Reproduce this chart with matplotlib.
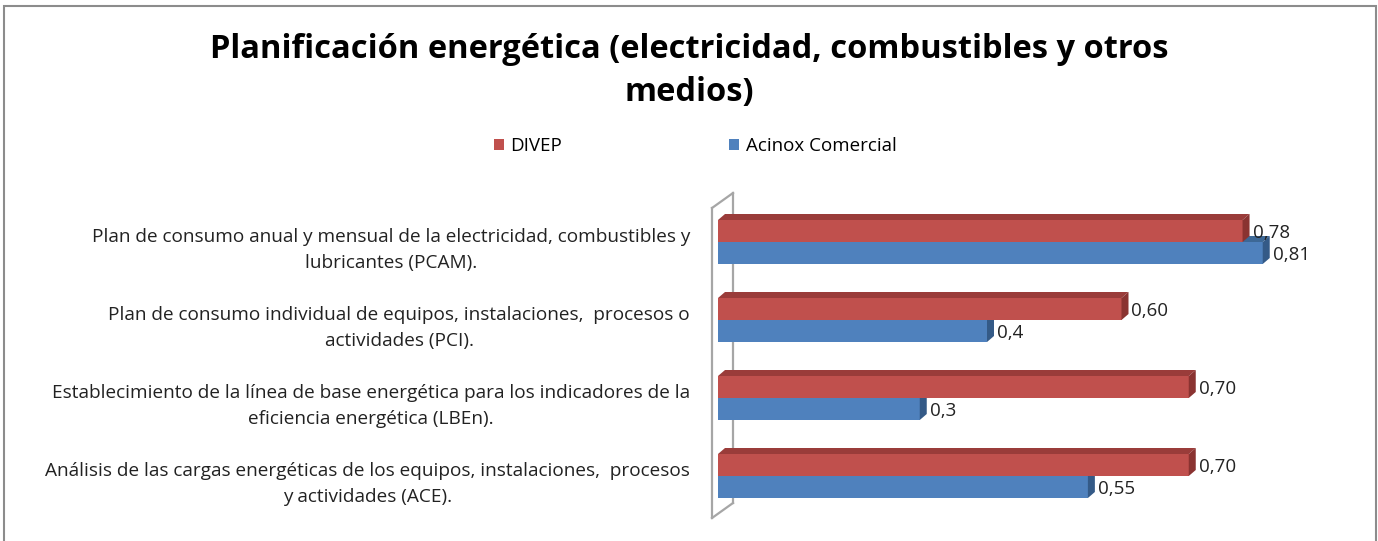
import matplotlib
matplotlib.use("Agg")
import matplotlib.pyplot as plt
from matplotlib.patches import Polygon, Rectangle, Patch
import numpy as np

plt.rcParams['font.family'] = ['Open Sans', 'DejaVu Sans']

TITLE = "Planificación energética (electricidad, combustibles y otros\nmedios)"
categories = [
    "Plan de consumo anual y mensual de la electricidad, combustibles y\nlubricantes (PCAM).",
    "Plan de consumo individual de equipos, instalaciones,  procesos o\nactividades (PCI).",
    "Establecimiento de la línea de base energética para los indicadores de la\neficiencia energética (LBEn).",
    "Análisis de las cargas energéticas de los equipos, instalaciones,  procesos\ny actividades (ACE).",
]
series_names = ["DIVEP", "Acinox Comercial"]
divep = [0.78, 0.60, 0.70, 0.70]
acinox = [0.81, 0.4, 0.3, 0.55]
divep_labels = ["0,78", "0,60", "0,70", "0,70"]
acinox_labels = ["0,81", "0,4", "0,3", "0,55"]

RED, RED_TOP, RED_SIDE = "#C0504D", "#9A3C3A", "#8A3331"
BLUE, BLUE_TOP, BLUE_SIDE = "#4F81BD", "#3D6896", "#345A87"

W, H = 1378, 541
fig = plt.figure(figsize=(W / 100, H / 100), dpi=100)

# chart area border (bottom edge cropped in the original)
fig.add_artist(Rectangle((4 / W, -0.05), (1376 - 4) / W, 1.05 - 6 / H,
                         transform=fig.transFigure, fill=False,
                         edgecolor="#8C8C8C", lw=1.5))

fig.text(0.5, 1 - 71 / H, TITLE, ha="center", va="center", fontsize=23.5,
         fontweight="bold", linespacing=1.38)

ax_l, ax_r, ax_t, ax_b = 718, 1340, 193, 518
ax = fig.add_axes([ax_l / W, 1 - ax_b / H, (ax_r - ax_l) / W, (ax_b - ax_t) / H])
px_x = 672.5          # pixels per unit on x
px_y = 78.0           # pixels per category
ax.set_xlim(0, (ax_r - ax_l) / px_x)
ax.set_ylim((ax_b - 242) / px_y, -(242 - ax_t) / px_y)
ax.axis("off")

pos = np.arange(len(categories))
h = 22 / px_y
dx, dy = 7 / px_x, 6 / px_y

# back wall
wdx, wdy = 21 / px_x, 15 / px_y
y0, y1 = ax.get_ylim()[1], ax.get_ylim()[0]
fx = -6 / px_x
wall = dict(color="#A6A6A6", lw=1.6, clip_on=False)
ax.plot([fx, fx], [y0 + wdy, y1], zorder=5, **wall)
ax.plot([fx + wdx, fx + wdx], [y0, y1 - wdy], zorder=0, **wall)
ax.plot([fx, fx + wdx], [y0 + wdy, y0], zorder=5, **wall)
ax.plot([fx, fx + wdx], [y1, y1 - wdy], zorder=5, **wall)

def bars3d(vals, ytops, face, top, side, z):
    ax.barh(ytops + h / 2, vals, height=h, color=face, zorder=z, linewidth=0)
    for v, yt in zip(vals, ytops):
        ax.add_patch(Polygon([(0, yt), (v, yt), (v + dx, yt - dy), (dx, yt - dy)],
                             closed=True, facecolor=top, edgecolor="none", zorder=z))
        ax.add_patch(Polygon([(v, yt + h), (v, yt), (v + dx, yt - dy), (v + dx, yt + h - dy)],
                             closed=True, facecolor=side, edgecolor="none", zorder=z))

bars3d(acinox, pos, BLUE, BLUE_TOP, BLUE_SIDE, 2)
bars3d(divep, pos - h, RED, RED_TOP, RED_SIDE, 3)

off = 10 / px_x
for i in pos:
    ax.text(divep[i] + off, i - h / 2 + 2 / px_y, divep_labels[i], ha="left",
            va="center", fontsize=13.5, color="#222222", zorder=6)
    ax.text(acinox[i] + off, i + h / 2 + 2 / px_y, acinox_labels[i], ha="left",
            va="center", fontsize=13.5, color="#222222", zorder=6)

# category labels
for i, lab in enumerate(categories):
    ax.text(-28 / px_x, i + 8 / px_y, lab, ha="right", va="center",
            multialignment="center", fontsize=13.7, color="#222222",
            linespacing=1.55, clip_on=False)

handles = [Patch(facecolor=RED), Patch(facecolor=BLUE)]
fig.legend(handles, series_names, loc="center", bbox_to_anchor=(0.5044, 1 - 146 / H),
           ncol=2, frameon=False, fontsize=13.5, handlelength=0.55, handleheight=0.55,
           handletextpad=0.35, columnspacing=8.9)

fig.savefig("out.png", dpi=100)
